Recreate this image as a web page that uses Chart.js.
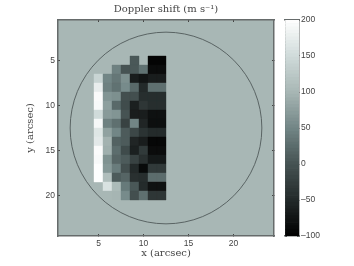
<!DOCTYPE html>
<html lang="en">

<head>
    <meta charset="UTF-8">
    <title>Doppler shift</title>
    <script src="https://cdnjs.cloudflare.com/ajax/libs/Chart.js/4.4.1/chart.umd.min.js"></script>
    <style>
        html, body { margin: 0; padding: 0; background: #fff; overflow: hidden; }
        #main { position: absolute; left: 0; top: 0; width: 354px; height: 266px; }
        #bar { position: absolute; left: 270px; top: 0; width: 84px; height: 266px; }
    </style>
</head>

<body>
    <div id="main"><canvas id="map"></canvas></div>
    <div id="bar"><canvas id="colorbar"></canvas></div>

    <script>
        const columns = [5, 6, 7, 8, 9, 10, 11, 12];
        const rows = [5, 6, 7, 8, 9, 10, 11, 12, 13, 14, 15, 16, 17, 18, 19, 20];
        const shift = [
            [null, null, null, null, 5, null, -95, -95],
            [null, null, 45, 0, 5, 30, -85, -85],
            [140, 50, 35, 60, -65, -75, -65, -65],
            [175, 45, 30, 55, 22, -50, 28, 28],
            [195, 65, 60, -5, -5, -45, -45, -45],
            [192, 75, 22, -8, -62, -35, -45, -45],
            [150, 70, 65, 0, -65, -65, -80, -80],
            [190, 45, 28, -20, 50, -55, -82, -82],
            [165, 78, 50, 8, -15, -38, -48, -48],
            [170, 95, 15, 8, -55, -65, -92, -92],
            [195, 92, 25, -10, -62, -30, -85, -85],
            [192, 62, 18, 8, -20, -42, -70, -70],
            [198, 68, 40, -5, -50, -88, -30, -30],
            [198, 110, 8, 18, -42, -45, 25, 25],
            [null, 160, 105, 38, 5, -48, -78, -78],
            [null, 100, 98, 55, -5, 28, -35, -35]
        ];
        const axisTicks = [5, 10, 15, 20];
        const barTicks = [-100, -50, 0, 50, 100, 150, 200];
        const diskCenter = [12.5, 12.5];
        const diskRadius = 10.65;

        const background = '#a8b7b5';
        const frame = '#666b6b';
        const textColor = '#444';
        const serif = 'DejaVu Serif';
        const sans = 'Liberation Sans';

        // grey ramp with a slight teal cast
        const stops = [
            [-100, 0, 0, 0],
            [0, 70, 83, 83],
            [50, 114, 134, 134],
            [100, 168, 183, 181],
            [150, 208, 219, 218],
            [200, 255, 255, 255]
        ];

        function shade(v) {
            for (let i = 1; i < stops.length; i++) {
                if (v <= stops[i][0]) {
                    let a = stops[i - 1], b = stops[i];
                    let t = (v - a[0]) / (b[0] - a[0]);
                    let c = [1, 2, 3].map(k => Math.round(a[k] + (b[k] - a[k]) * t));
                    return 'rgb(' + c.join(',') + ')';
                }
            }
            return '#fff';
        }

        let cells = [];
        rows.forEach((row, r) => {
            columns.forEach((col, c) => {
                if (shift[r][c] !== null) {
                    cells.push({ x: col, y: row, v: shift[r][c] });
                }
            });
        });

        function unitPixels(ctx) {
            let x = ctx.chart.scales.x;
            return Math.abs(x.getPixelForValue(1) - x.getPixelForValue(0));
        }

        const fillArea = {
            id: 'fillArea',
            beforeDraw(chart) {
                let a = chart.chartArea;
                chart.ctx.fillStyle = background;
                chart.ctx.fillRect(a.left, a.top, a.right - a.left, a.bottom - a.top);
            }
        };

        function setTicks(list) {
            return scale => { scale.ticks = list.map(v => ({ value: v })); };
        }

        function frameAxis(position, size, labels, extra) {
            return Object.assign({
                type: 'linear',
                position: position,
                min: 0.5,
                max: 24.5,
                afterBuildTicks: setTicks(axisTicks),
                afterFit: s => {
                    if (s.isHorizontal()) { s.height = size; } else { s.width = size; }
                },
                grid: { drawOnChartArea: false, tickLength: -2, tickColor: '#444', tickWidth: 1 },
                border: { color: frame, width: 1.5 },
                ticks: {
                    display: labels,
                    autoSkip: false,
                    maxRotation: 0,
                    padding: 5,
                    color: textColor,
                    font: { family: sans, size: 8.5 }
                }
            }, extra);
        }

        new Chart(document.getElementById('map'), {
            type: 'scatter',
            plugins: [fillArea],
            data: {
                datasets: [{
                    label: 'Disk limb',
                    data: [{ x: diskCenter[0], y: diskCenter[1] }],
                    pointStyle: 'circle',
                    pointRadius: ctx => diskRadius * unitPixels(ctx),
                    pointBackgroundColor: 'rgba(0,0,0,0)',
                    pointBorderColor: '#5a6464',
                    pointBorderWidth: 1
                }, {
                    label: 'Doppler shift',
                    data: cells,
                    pointStyle: 'rect',
                    pointRadius: ctx => unitPixels(ctx) / Math.SQRT2,
                    pointBackgroundColor: ctx => shade(ctx.raw.v),
                    pointBorderColor: ctx => shade(ctx.raw.v),
                    pointBorderWidth: 0.4
                }]
            },
            options: {
                responsive: true,
                maintainAspectRatio: false,
                animation: false,
                layout: { padding: { left: 0, right: 80, top: 0, bottom: 0 } },
                plugins: {
                    legend: { display: false },
                    tooltip: { enabled: false }
                },
                scales: {
                    x: frameAxis('bottom', 30, true, {
                        title: {
                            display: true,
                            text: 'x (arcsec)',
                            color: textColor,
                            font: { family: serif, size: 10 },
                            padding: { top: 0, bottom: 7 }
                        }
                    }),
                    y: frameAxis('left', 58, true, {
                        reverse: true,
                        title: {
                            display: true,
                            text: 'y (arcsec)',
                            color: textColor,
                            font: { family: serif, size: 10 },
                            padding: { top: 24, bottom: 0 }
                        }
                    }),
                    xTop: frameAxis('top', 20, false, {
                        title: {
                            display: true,
                            text: 'Doppler shift (m s\u207B\u00B9)',
                            color: textColor,
                            font: { family: serif, size: 10 },
                            padding: { top: 3, bottom: 0 }
                        }
                    }),
                    yRight: frameAxis('right', 0, false, { reverse: true })
                }
            }
        });

        // colormap steps of the colorbar, not data
        let levels = [];
        for (let i = 63; i >= 0; i--) {
            levels.push(-100 + (i + 0.5) * 300 / 64);
        }

        function barFrame(position) {
            return {
                type: 'linear',
                position: position,
                min: 0,
                max: 1,
                afterFit: s => { s.height = 0; },
                grid: { drawOnChartArea: false, drawTicks: false },
                border: { color: frame, width: 1.5 },
                ticks: { display: false }
            };
        }

        function barAxis(position, size, labels) {
            return {
                type: 'linear',
                position: position,
                offset: false,
                min: -100,
                max: 200,
                afterBuildTicks: setTicks(barTicks),
                afterFit: s => { s.width = size; },
                grid: { drawOnChartArea: false, offset: false, tickLength: -2, tickColor: '#444' },
                border: { color: frame, width: position === 'right' ? 1.5 : 1 },
                ticks: {
                    display: labels,
                    autoSkip: false,
                    padding: 4,
                    color: textColor,
                    font: { family: sans, size: 8.5 },
                    callback: v => String(v).replace('-', '\u2013')
                }
            };
        }

        new Chart(document.getElementById('colorbar'), {
            type: 'bar',
            data: {
                labels: levels,
                datasets: [{
                    label: 'Colour scale',
                    data: levels.map(() => 1),
                    backgroundColor: levels.map(shade),
                    barPercentage: 1,
                    categoryPercentage: 1
                }]
            },
            options: {
                indexAxis: 'y',
                responsive: true,
                maintainAspectRatio: false,
                animation: false,
                layout: { padding: { left: 15, right: 0, top: 20, bottom: 30 } },
                plugins: {
                    legend: { display: false },
                    tooltip: { enabled: false }
                },
                scales: {
                    x: barFrame('top'),
                    xBottom: barFrame('bottom'),
                    y: { type: 'category', display: false },
                    values: barAxis('right', 55, true),
                    valuesLeft: barAxis('left', 0, false)
                }
            }
        });
    </script>
</body>

</html>
